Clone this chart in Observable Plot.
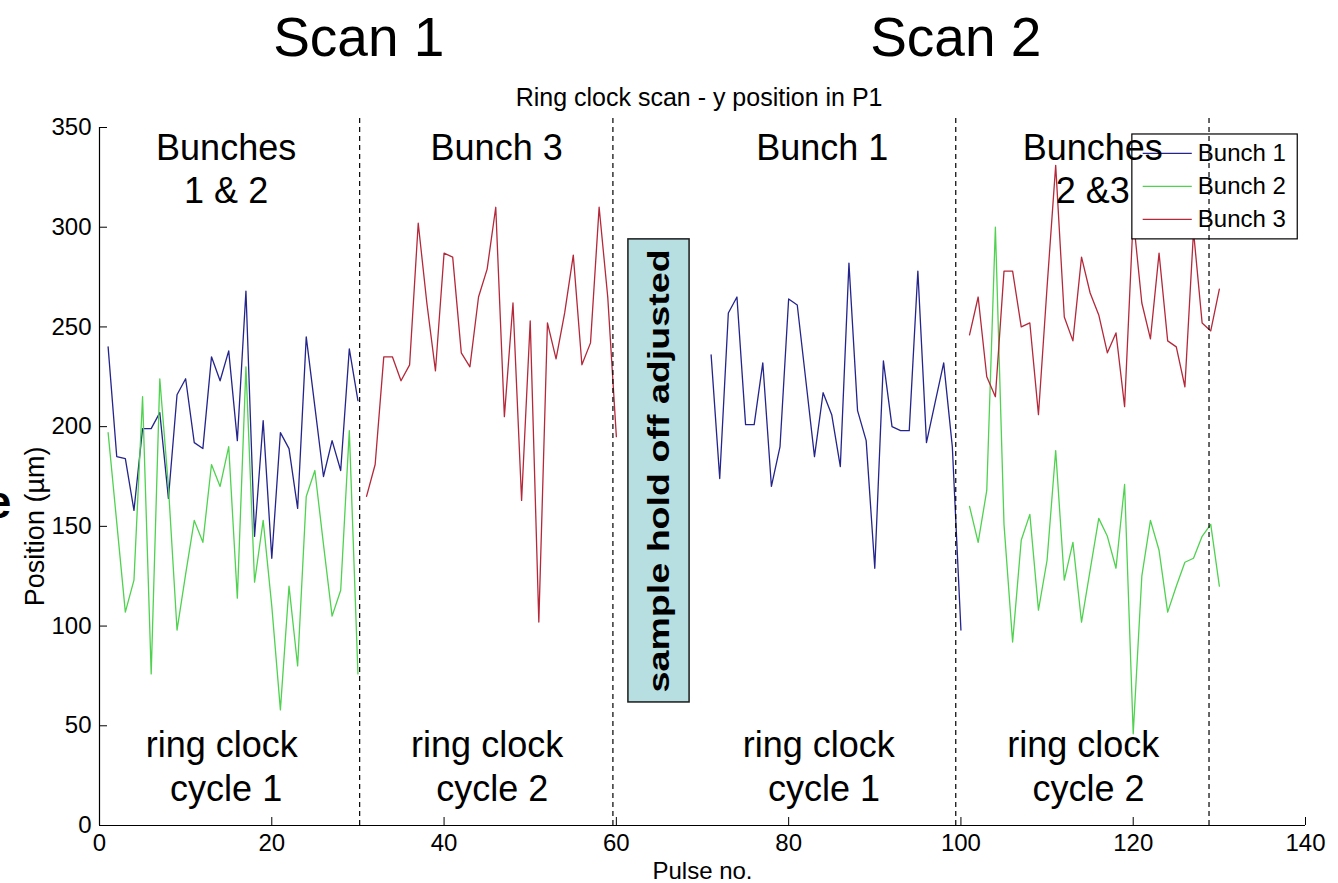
<!DOCTYPE html>
<html>
<head>
<meta charset="utf-8">
<script src="https://cdn.jsdelivr.net/npm/d3@7"></script>
<script src="https://cdn.jsdelivr.net/npm/@observablehq/plot@0.6"></script>
<style>
  html, body { margin: 0; padding: 0; background: #ffffff; }
  #chart svg { display: block; }
</style>
</head>
<body>
<div id="chart"></div>
<script>
// Ring clock scan — y position in P1, per bunch (µm), by pulse number.
const seriesNames = ["Bunch 1", "Bunch 2", "Bunch 3"];
const seriesColors = ["#24248c", "#4fd24f", "#b4283a"];

// Scan 1: bunches 1 & 2 on pulses 1–30, bunch 3 on pulses 31–60
const bunch1Scan1 = [240, 185, 184, 158, 199, 199, 207, 164, 216, 224, 192, 189, 235, 223, 238, 193, 268, 145, 203, 134, 197, 189, 159, 245, 210, 175, 193, 178, 239, 213];
const bunch2Scan1 = [197, 152, 107, 123, 215, 76, 224, 170, 98, 126, 153, 142, 181, 170, 190, 114, 230, 122, 153, 110, 58, 120, 80, 165, 178, 141, 105, 118, 198, 76];
const bunch3Scan1 = [165, 181, 235, 235, 223, 231, 302, 262, 228, 287, 285, 237, 230, 265, 279, 310, 205, 262, 163, 253, 102, 252, 234, 257, 286, 231, 242, 310, 265, 195];

// Scan 2: bunch 1 on pulses 71–100, bunches 2 & 3 on pulses 101–130
const bunch1Scan2 = [236, 174, 257, 265, 201, 201, 232, 170, 190, 264, 261, 223, 185, 217, 206, 180, 282, 208, 193, 129, 233, 200, 198, 198, 278, 192, 212, 232, 190, 98];
const bunch2Scan2 = [160, 142, 168, 300, 151, 92, 143, 156, 108, 133, 188, 123, 142, 102, 128, 154, 145, 129, 171, 46, 125, 153, 138, 107, 120, 132, 134, 145, 151, 120];
const bunch3Scan2 = [246, 265, 225, 215, 278, 278, 250, 252, 206, 270, 331, 255, 243, 285, 267, 256, 237, 247, 210, 305, 262, 244, 287, 243, 240, 220, 298, 252, 248, 269];

const segments = [
  {series: "Bunch 1", firstPulse: 1, values: bunch1Scan1},
  {series: "Bunch 2", firstPulse: 1, values: bunch2Scan1},
  {series: "Bunch 3", firstPulse: 31, values: bunch3Scan1},
  {series: "Bunch 1", firstPulse: 71, values: bunch1Scan2},
  {series: "Bunch 2", firstPulse: 101, values: bunch2Scan2},
  {series: "Bunch 3", firstPulse: 101, values: bunch3Scan2}
];

// Axis ticks
const xTicks = [0, 20, 40, 60, 80, 100, 120, 140];
const yTicks = [0, 50, 100, 150, 200, 250, 300, 350];

// Dashed dividers between ring clock cycles
const dividers = [30.2, 59.6, 99.4, 128.8];

// Text annotations (anchored in pulse / µm units)
const scanLabels = [
  {text: "Scan 1", x: 30.1, y: 386},
  {text: "Scan 2", x: 99.4, y: 386}
];
const bunchLabels = [
  {text: "Bunches", x: 14.7, y: 333.5},
  {text: "1 & 2", x: 14.7, y: 312},
  {text: "Bunch 3", x: 46.1, y: 333.5},
  {text: "Bunch 1", x: 83.9, y: 333.5},
  {text: "Bunches", x: 115.3, y: 333.5},
  {text: "2 &3", x: 115.3, y: 312}
];
const cycleLabels = [
  {text: "ring clock", x: 14.2, y: 34.1},
  {text: "cycle 1", x: 14.7, y: 12.5},
  {text: "ring clock", x: 45.0, y: 34.1},
  {text: "cycle 2", x: 45.6, y: 12.5},
  {text: "ring clock", x: 83.5, y: 34.1},
  {text: "cycle 1", x: 84.1, y: 12.5},
  {text: "ring clock", x: 114.2, y: 34.1},
  {text: "cycle 2", x: 114.8, y: 12.5}
];
const holdNote = "sample hold off adjusted";
const holdBox = {x1: 61.4, x2: 68.5, y1: 61.7, y2: 293.9};
const titleText = "Ring clock scan - y position in P1";
const xLabel = "Pulse no.";
const yLabel = "Position (µm)";

// Legend box and entries
const legendBox = {x1: 119.9, x2: 139.1, y1: 293.9, y2: 346.5};
const legendRows = [
  {series: "Bunch 1", y: 337},
  {series: "Bunch 2", y: 320.5},
  {series: "Bunch 3", y: 303.9}
];
const legendLine = {x1: 121.1, x2: 126.8, text: 127.5};

const rows = segments.flatMap((s, i) =>
  s.values.map((v, j) => ({series: s.series, seg: i, pulse: s.firstPulse + j, pos: v}))
);
const order = new Map(seriesNames.map((n, i) => [n, i]));
rows.sort((a, b) => order.get(a.series) - order.get(b.series) || a.seg - b.seg);

const font = "'Liberation Sans', Arial, Helvetica, sans-serif";

const chart = Plot.plot({
  width: 1338,
  height: 883,
  marginLeft: 99,
  marginRight: 33,
  marginTop: 127,
  marginBottom: 58,
  style: {fontFamily: font, fontSize: "24px", background: "#ffffff", color: "#000"},
  x: {domain: [0, 140]},
  y: {domain: [0, 350]},
  color: {domain: seriesNames, range: seriesColors},
  marks: [
    // data lines
    Plot.line(rows, {x: "pulse", y: "pos", z: "seg", stroke: "series", strokeWidth: 1.3}),

    // axes
    Plot.ruleX([0], {y1: 0, y2: 350, stroke: "#000", strokeWidth: 1.2}),
    Plot.ruleY([0], {x1: 0, x2: 140, stroke: "#000", strokeWidth: 1.2}),
    Plot.axisX(xTicks, {anchor: "bottom", tickSize: -8, tickFormat: () => "", label: null, stroke: "#000"}),
    Plot.axisY(yTicks, {anchor: "left", tickSize: -8, tickFormat: () => "", label: null, stroke: "#000"}),
    Plot.axisX(xTicks, {anchor: "bottom", tickSize: 0, tickPadding: 8, fontSize: 24, label: null, fill: "#000"}),
    Plot.axisY(yTicks, {anchor: "left", tickSize: 0, tickPadding: 8, fontSize: 24, label: null, fill: "#000"}),

    // axis titles and chart title
    Plot.text([xLabel], {x: 70, y: -26.6, text: d => d, fontSize: 24, lineAnchor: "bottom", fill: "#000"}),
    Plot.text([yLabel], {x: -7.4, y: 150, text: d => d, fontSize: 27, rotate: -90, fill: "#000"}),
    Plot.text([titleText], {x: 69.6, y: 360.6, text: d => d, fontSize: 25, lineAnchor: "bottom", fill: "#000"}),

    // legend
    Plot.rect([legendBox], {x1: "x1", x2: "x2", y1: "y1", y2: "y2", fill: "#fff", stroke: "#000", strokeWidth: 1.2}),
    Plot.link(legendRows, {x1: legendLine.x1, x2: legendLine.x2, y1: "y", y2: "y", stroke: "series", strokeWidth: 1.3}),
    Plot.text(legendRows, {x: legendLine.text, y: "y", text: "series", textAnchor: "start", fontSize: 24, fill: "#000"}),

    // cycle dividers
    Plot.ruleX(dividers, {y1: 0, y2: 356, stroke: "#000", strokeWidth: 1.2, strokeDasharray: "5,4"}),

    // annotations
    Plot.text(scanLabels, {x: "x", y: "y", text: "text", fontSize: 55, lineAnchor: "bottom", fill: "#000"}),
    Plot.text(bunchLabels, {x: "x", y: "y", text: "text", fontSize: 36, lineAnchor: "bottom", fill: "#000"}),
    Plot.text(cycleLabels, {x: "x", y: "y", text: "text", fontSize: 36, lineAnchor: "bottom", fill: "#000"}),

    // sample-hold note
    Plot.rect([holdBox], {x1: "x1", x2: "x2", y1: "y1", y2: "y2", fill: "#b7dfe1", stroke: "#1a1a1a", strokeWidth: 1.5}),
    Plot.text([holdNote], {
      x: (holdBox.x1 + holdBox.x2) / 2, y: (holdBox.y1 + holdBox.y2) / 2,
      text: d => d, rotate: -90, fontSize: 30, fontWeight: "bold", fill: "#000"
    }),

    // clipped lettering at the left edge
    Plot.text(["e"], {x: -13.2, y: 154, text: d => d, fontSize: 46, fontWeight: "bold", textAnchor: "start", lineAnchor: "bottom", fill: "#000"})
  ]
});

// stretch the rotated note to fill its box
const ys = chart.scale("y");
const boxLen = Math.abs(ys.apply(holdBox.y1) - ys.apply(holdBox.y2));
d3.select(chart).selectAll("text").filter(function () { return this.textContent === holdNote; })
  .attr("textLength", boxLen - 20)
  .attr("lengthAdjust", "spacingAndGlyphs");

document.getElementById("chart").appendChild(chart);
</script>
</body>
</html>
